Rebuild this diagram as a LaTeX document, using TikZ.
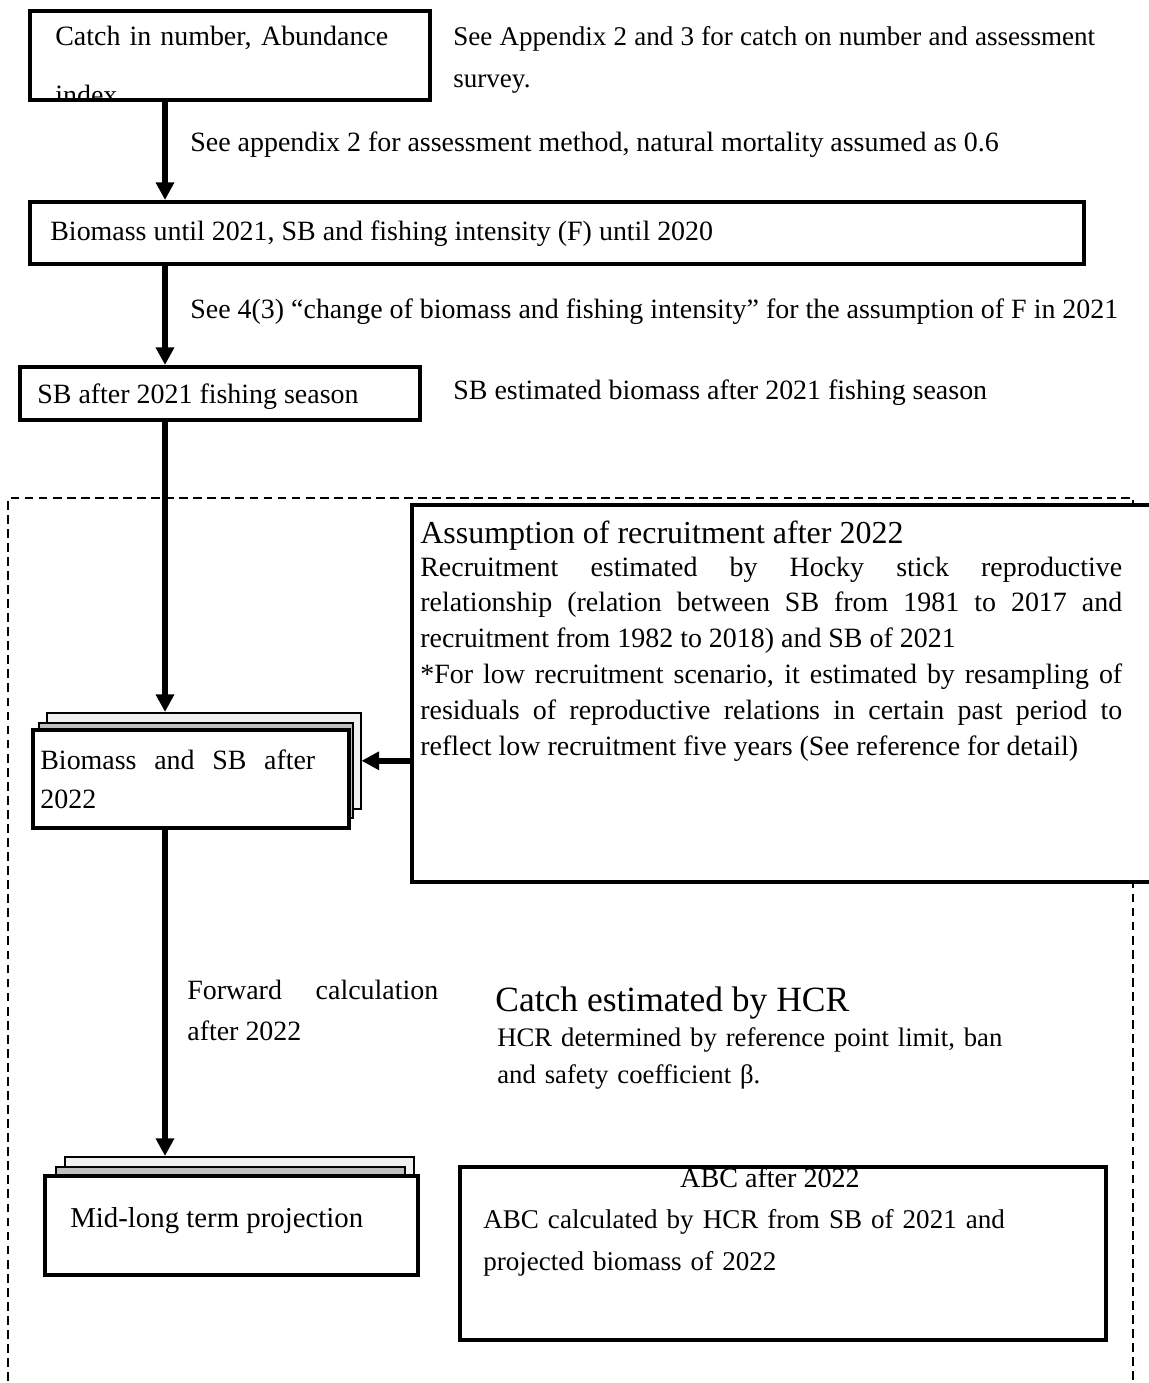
\documentclass[tikz,border=0pt]{standalone}
\usepackage{fontspec}
\setmainfont{Liberation Serif}
\usetikzlibrary{arrows.meta,positioning}

\newcommand{\bodyfont}{\fontsize{15.9}{20.4}\selectfont}
\newcommand{\titlefont}{\fontsize{18.2}{20}\selectfont}
\newcommand{\hcrfont}{\fontsize{20.2}{22}\selectfont}

\definecolor{sheetlight}{HTML}{F0F0F0}
\definecolor{sheetgray}{HTML}{BFBFBF}

\tikzset{
  flowbox/.style={draw, line width=2.2pt, fill=white, inner sep=0pt, anchor=north west},
  sheet/.style={draw, line width=0.9pt, inner sep=0pt, anchor=north west},
  flow/.style={-{Triangle[width=10pt,length=10pt]}, line width=3.5pt},
  frame/.style={dashed, dash pattern=on 5pt off 3pt, line width=1.4pt},
  note/.style={anchor=base west, inner sep=0pt, font=\bodyfont},
  jnote/.style={note, align=justify},
}

\begin{document}
\begin{tikzpicture}[x=0.02cm, y=-0.02cm]
\useasboundingbox (0,0) rectangle (1149,1383);
\coordinate (spine) at (165,0);

% dashed frame round the projection part
\draw[frame] (8,1395) -- (8,498) -- (1133,498) -- (1133,1395);

% input data
\node[flowbox, minimum width=8cm, minimum height=1.78cm] (catch) at (28,9) {};
\begin{scope}
  \clip ([shift={(1.1pt,1.1pt)}]catch.south west) rectangle ([shift={(-1.1pt,-1.1pt)}]catch.north east);
  \node[jnote, text width=6.66cm, font=\fontsize{15.9}{34}\selectfont] (catchtext) at (55,45)
    {Catch in number, Abundance\linebreak index};
\end{scope}
\node[jnote, text width=12.84cm, font=\fontsize{15.4}{24.4}\selectfont] (catchnote) at (453,45)
  {See Appendix 2 and 3 for catch on number and assessment\linebreak survey.};

% stock assessment
\node[flowbox, minimum width=21.08cm, minimum height=1.24cm] (biomass) at (28,200) {};
\node[note] (biomasstext) at (50,240) {Biomass until 2021, SB and fishing intensity (F) until 2020};
\node[flowbox, minimum width=8cm, minimum height=1.06cm] (sb) at (18,365) {};
\node[note] (sbtext) at (37,403) {SB after 2021 fishing season};
\node[note] (sbnote) at (453,399) {SB estimated biomass after 2021 fishing season};

\draw[flow] (catch.south -| spine) -- (biomass.north -| spine);
\node[note] (methodnote) at (190,151) {See appendix 2 for assessment method, natural mortality assumed as 0.6};
\draw[flow] (biomass.south -| spine) -- (sb.north -| spine);
\node[note] (fnote) at (190,318) {See 4(3) “change of biomass and fishing intensity” for the assumption of F in 2021};

% recruitment assumption
\node[flowbox, minimum width=15cm, minimum height=7.54cm] (recruit) at (410,503) {};
\node[note, font=\titlefont] (recruittitle) at (420,543) {Assumption of recruitment after 2022};
\node[jnote, text width=14.04cm] (recruitbody) at (420,576)
  {Recruitment estimated by Hocky stick reproductive\linebreak
   relationship (relation between SB from 1981 to 2017 and\linebreak
   recruitment from 1982 to 2018) and SB of 2021\par
   *For low recruitment scenario, it estimated by resampling of\linebreak
   residuals of reproductive relations in certain past period to\linebreak
   reflect low recruitment five years (See reference for detail)};

% future biomass
\node[sheet, fill=sheetlight, minimum width=6.28cm, minimum height=1.92cm] (sbback) at (46,712) {};
\node[sheet, fill=sheetgray, minimum width=6.28cm, minimum height=1.9cm] (sbmid) at (38,722) {};
\node[flowbox, minimum width=6.32cm, minimum height=1.96cm] (future) at (31,728) {};
\node[jnote, text width=5.5cm, font=\fontsize{15.9}{22.7}\selectfont] (futuretext) at (40,769)
  {Biomass and SB after\linebreak 2022};
\draw[flow] (sb.south -| spine) -- (sbback.north -| spine);
\draw[flow] (recruit.west |- sbback.east) -- (sbback.east);

% projection
\node[sheet, fill=sheetlight, minimum width=6.98cm, minimum height=1.9cm] (projback) at (64,1156) {};
\node[sheet, fill=sheetgray, minimum width=6.98cm, minimum height=1.9cm] (projmid) at (55,1166) {};
\node[flowbox, minimum width=7.46cm, minimum height=1.98cm] (proj) at (43,1174) {};
\node[note, font=\fontsize{16.4}{20}\selectfont] (projtext) at (70,1227) {Mid-long term projection};
\draw[flow] (future.south -| spine) -- (projback.north -| spine);
\node[jnote, text width=5.02cm, font=\fontsize{15.9}{23.8}\selectfont] (forwardnote) at (187,999)
  {Forward calculation\linebreak after 2022};

% harvest control rule
\node[note, font=\hcrfont] (hcrtitle) at (495,1011) {Catch estimated by HCR};
\node[note, text width=12cm, font=\fontsize{15.2}{21.5}\selectfont] (hcrnote) at (497,1046)
  {HCR determined by reference point limit, ban\\and safety coefficient β.};

% ABC
\node[flowbox, minimum width=12.92cm, minimum height=3.46cm] (abc) at (458,1165) {};
\node[anchor=base, inner sep=0pt, font=\fontsize{16}{20}\selectfont] (abctitle) at (770,1187) {ABC after 2022};
\node[note, text width=12cm, font=\fontsize{15.4}{24.4}\selectfont] (abctext) at (483,1228)
  {ABC calculated by HCR from SB of 2021 and\\projected biomass of 2022};
\end{tikzpicture}
\end{document}
